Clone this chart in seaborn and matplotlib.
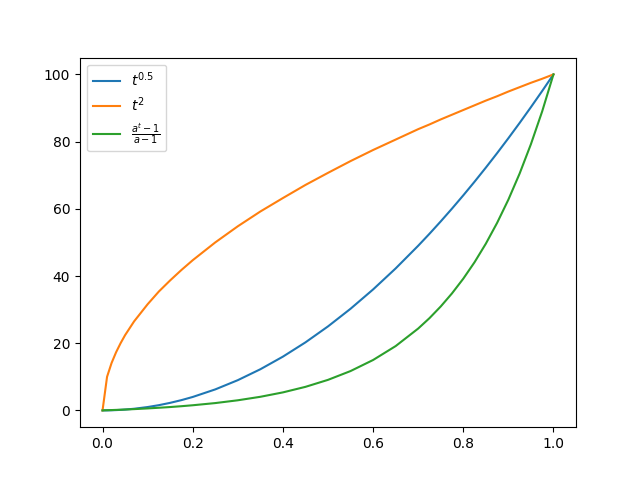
import numpy as np
import pandas as pd
import seaborn as sns
import matplotlib
matplotlib.use('Agg')
import matplotlib.pyplot as plt

# Values
t = [0, 0.01, 0.02, 0.03, 0.04, 0.05, 0.07, 0.1, 0.125, 0.15, 0.175, 0.2, 0.25, 0.3,
     0.35, 0.4, 0.45, 0.5, 0.55, 0.6, 0.65, 0.7, 0.725, 0.75, 0.775, 0.8, 0.825, 0.85,
     0.875, 0.9, 0.925, 0.95, 0.975, 1.0]

# blue line (labelled t^0.5 in the legend)
blue = [0, 0.01, 0.04, 0.09, 0.16, 0.25, 0.49, 1.0, 1.56, 2.25, 3.06, 4.0, 6.25, 9.0,
        12.25, 16.0, 20.25, 25.0, 30.25, 36.0, 42.25, 49.0, 52.56, 56.25, 60.06, 64.0, 68.06, 72.25,
        76.56, 81.0, 85.56, 90.25, 95.06, 100]

# orange line (labelled t^2 in the legend)
orange = [0, 10.0, 14.1, 17.3, 20.0, 22.4, 26.5, 31.6, 35.4, 38.7, 41.8, 44.7, 50.0, 54.8,
          59.2, 63.2, 67.1, 70.7, 74.2, 77.5, 80.6, 83.7, 85.1, 86.6, 88.0, 89.4, 90.8, 92.2,
          93.5, 94.9, 96.2, 97.5, 98.7, 100]

# green line
green = [0, 0.05, 0.10, 0.15, 0.20, 0.26, 0.38, 0.59, 0.79, 1.0, 1.25, 1.53, 2.18, 3.01,
         4.05, 5.36, 7.01, 9.09, 11.71, 15.0, 19.14, 24.36, 27.45, 30.93, 34.83, 39.2, 44.1, 49.61,
         55.8, 62.72, 70.5, 79.23, 89.0, 100]

labels = [r'$t^{0.5}$', r'$t^2$', r'$\frac{a^t-1}{a-1}$']

df = pd.DataFrame({'t': t, 'blue': blue, 'orange': orange, 'green': green})

fig, ax = plt.subplots(figsize=(6.4, 4.8), dpi=100)

for col, lab, c in zip(['blue', 'orange', 'green'], labels, ['tab:blue', 'tab:orange', 'tab:green']):
    sns.lineplot(data=df, x='t', y=col, label=lab, color=c, ax=ax)

ax.set_xlabel('')
ax.set_ylabel('')
ax.legend(loc='upper left')

fig.savefig('out.png')
